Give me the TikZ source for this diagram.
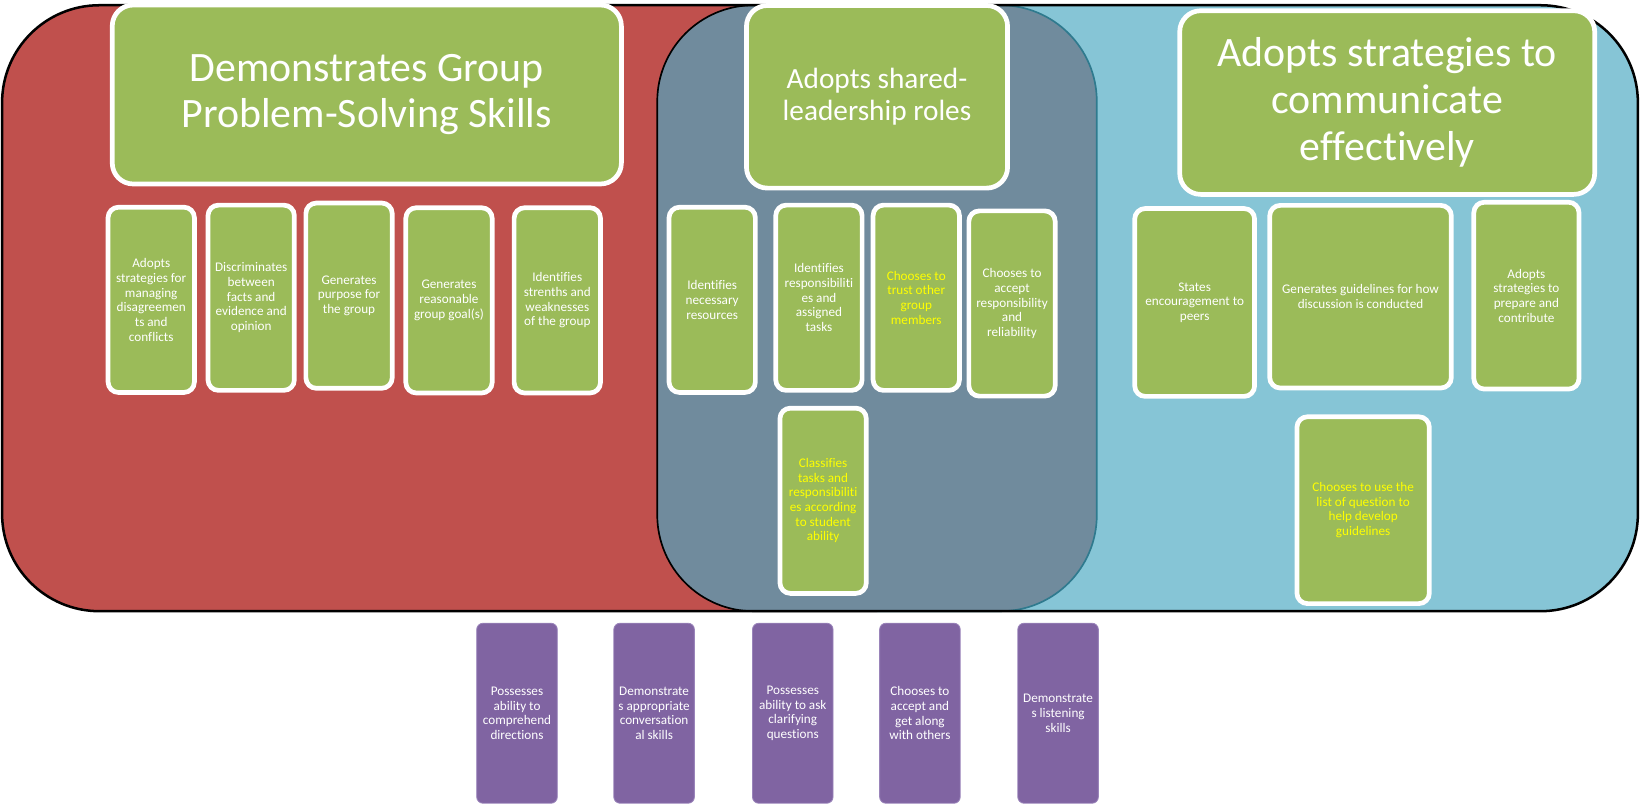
\documentclass[tikz,border=0pt]{standalone}
\usepackage{fontspec}
\setmainfont[Ligatures={NoCommon}]{Carlito}
\definecolor{redbg}{HTML}{C0504D}
\definecolor{cyanbg}{HTML}{86C5D6}
\definecolor{graybg}{HTML}{708B9D}
\definecolor{tealline}{HTML}{2F7A8E}
\definecolor{greenbox}{HTML}{9BBB59}
\definecolor{purplebox}{HTML}{8064A2}
\definecolor{purpleline}{HTML}{9A84BA}
\definecolor{yel}{HTML}{FFFF00}
\tikzset{
  gbox/.style={draw=white, line width=4.5pt, fill=greenbox, rounded corners=10pt,
    align=center, text=white, inner sep=1pt, font=\fontsize{12.6}{14}\selectfont},
  tbox/.style={gbox, rounded corners=20pt},
  sbox/.style={gbox, minimum width=82.5pt, minimum height=177pt},
  pbox/.style={draw=purpleline, line width=0.8pt, fill=purplebox, rounded corners=6pt,
    align=center, text=white, inner sep=1pt, minimum width=77pt, minimum height=172pt,
    font=\fontsize{12.6}{14}\selectfont},
  yt/.style={text=yel}
}
\begin{document}
\begin{tikzpicture}[x=1pt,y=-1pt]
\useasboundingbox (0,0) rectangle (1568,771);
% background shapes
\fill[redbg, rounded corners=93pt] (2,5) rectangle (1565,584);
\fill[cyanbg, rounded corners=93pt] (800,5) rectangle (1565,584);
\fill[graybg, rounded corners=92pt] (628,5) rectangle (1048,584);
\begin{scope}
\clip (600,0) rectangle (838,600);
\draw[black, line width=1.6pt, rounded corners=92pt] (628,5) rectangle (1048,584);
\end{scope}
\begin{scope}
\clip (838,0) rectangle (1100,600);
\draw[tealline, line width=1.6pt, rounded corners=92pt] (628,5) rectangle (1048,584);
\end{scope}
\draw[black, line width=2.4pt, rounded corners=93pt] (2,5) rectangle (1565,584);

% titles
\node[tbox, minimum width=486.5pt, minimum height=171pt, font=\fontsize{40}{44.6}\selectfont] (t1) at (350.5,90.3) {Demonstrates Group\\Problem-Solving Skills};
\node[tbox, minimum width=249.5pt, minimum height=174.5pt, font=\fontsize{28}{30}\selectfont] (t2) at (838,92.5) {Adopts shared-\\leadership roles};
\node[tbox, minimum width=396.5pt, minimum height=175.5pt, font=\fontsize{40}{45}\selectfont] (t3) at (1325.5,98) {Adopts strategies to\\communicate\\effectively};

% red group
\node[sbox] (a1) at (144.5,286.5) {Adopts\\strategies for\\managing\\disagreemen\\ts and\\conflicts};
\node[sbox] (a2) at (240,284.5) {Discriminates\\between\\facts and\\evidence and\\opinion};
\node[sbox] (a3) at (333.5,282.5) {Generates\\purpose for\\the group};
\node[sbox] (a4) at (429,287) {Generates\\reasonable\\group goal(s)};
\node[sbox] (a5) at (532.5,287) {Identifies\\strenths and\\weaknesses\\of the group};

% gray group
\node[sbox] (b1) at (680.5,286.5) {Identifies\\necessary\\resources};
\node[sbox] (b2) at (782.5,284.5) {Identifies\\responsibiliti\\es and\\assigned\\tasks};
\node[sbox, yt] (b3) at (875.5,284.5) {Chooses to\\trust other\\group\\members};
\node[sbox] (b4) at (967,290) {Chooses to\\accept\\responsibility\\and\\reliability};
\node[sbox, yt] (b5) at (786.5,478.5) {Classifies\\tasks and\\responsibiliti\\es according\\to student\\ability};

% cyan group
\node[gbox, minimum width=114.5pt, minimum height=179.5pt] (c1) at (1141.5,289) {States\\encouragement to\\peers};
\node[gbox, minimum width=173.5pt, minimum height=174.5pt] (c2) at (1300,283.5) {Generates guidelines for how\\discussion is conducted};
\node[gbox, minimum width=100.5pt, minimum height=178.5pt] (c3) at (1458.5,282.5) {Adopts\\strategies to\\prepare and\\contribute};
\node[gbox, yt, minimum width=126.5pt, minimum height=178.5pt] (c4) at (1302.5,487.5) {Chooses to use the\\list of question to\\help develop\\guidelines};

% purple
\node[pbox] (p1) at (494,681.5) {Possesses\\ability to\\comprehend\\directions};
\node[pbox] (p2) at (625,681.5) {Demonstrate\\s appropriate\\conversation\\al skills};
\node[pbox] (p3) at (757.5,681.5) {Possesses\\ability to ask\\clarifying\\questions};
\node[pbox] (p4) at (879,681.5) {Chooses to\\accept and\\get along\\with others};
\node[pbox] (p5) at (1011,681.5) {Demonstrate\\s listening\\skills};
\end{tikzpicture}
\end{document}
